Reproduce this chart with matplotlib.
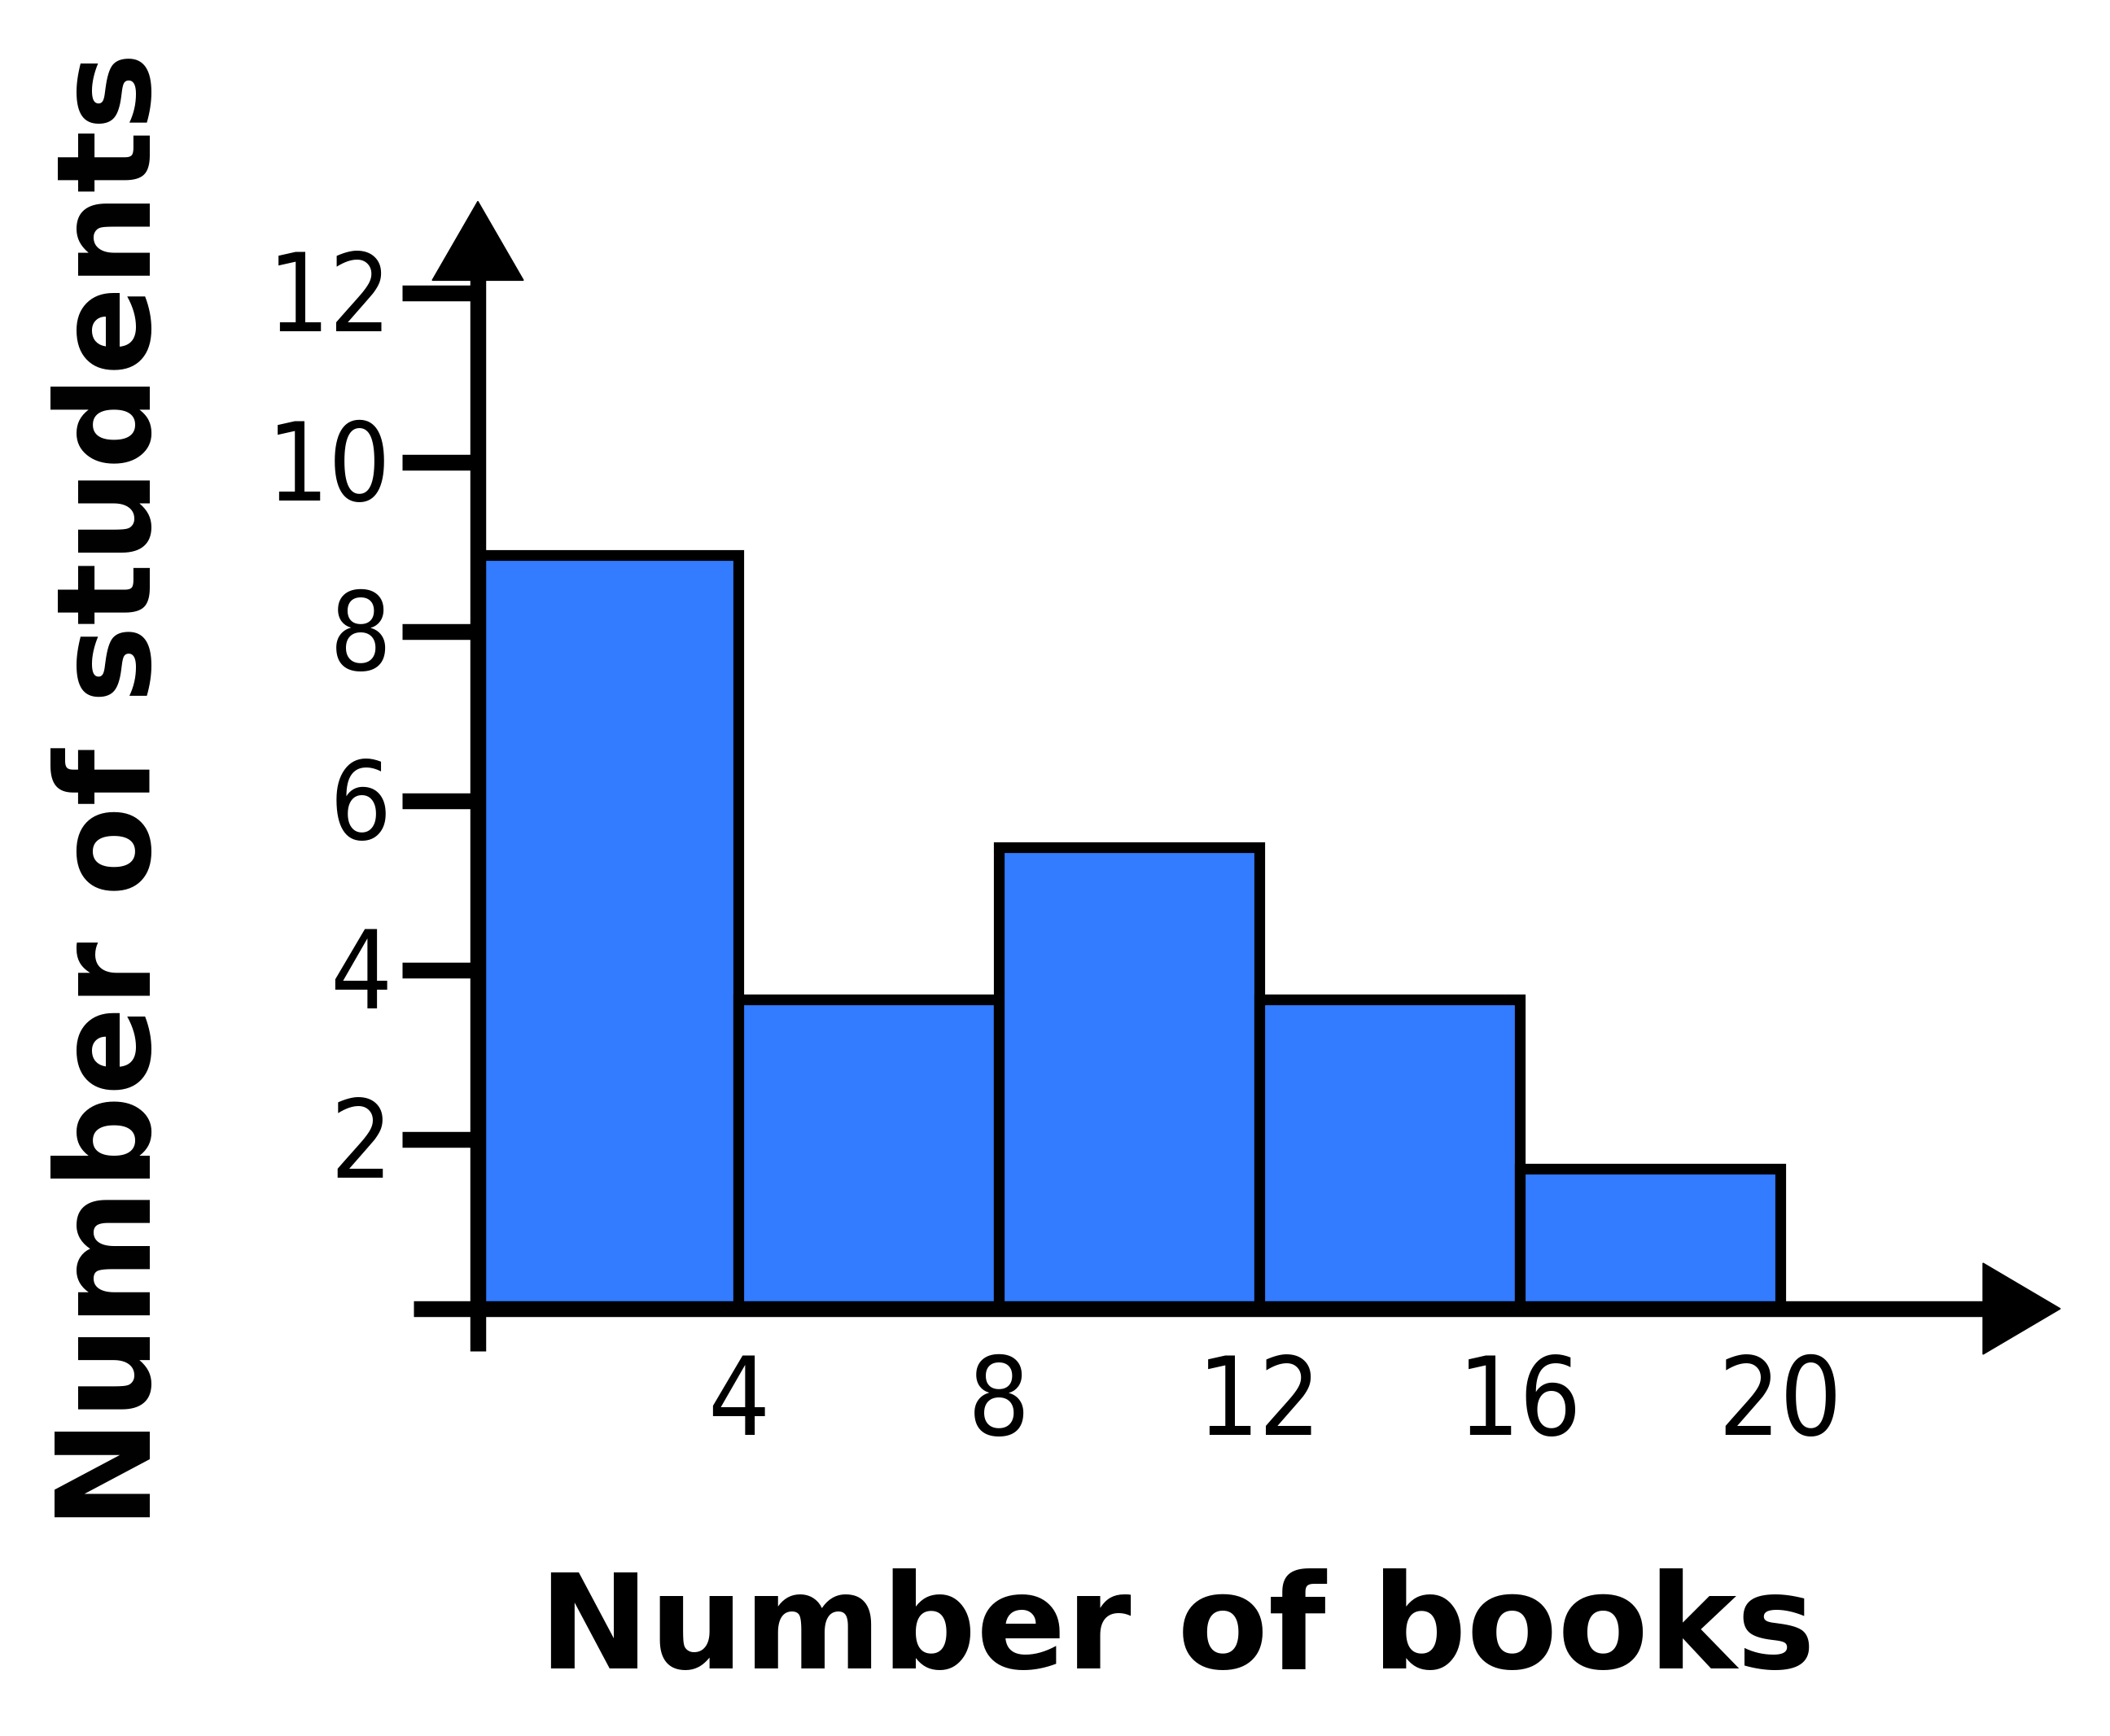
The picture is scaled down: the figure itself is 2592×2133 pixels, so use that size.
import matplotlib.pyplot as plt
from matplotlib import font_manager

# histogram data
bin_edges = [0, 4, 8, 12, 16, 20]
counts = [8.9, 3.65, 5.45, 3.65, 1.65]
x_ticks = [4, 8, 12, 16, 20]
y_ticks = [2, 4, 6, 8, 10, 12]

bar_color = '#337BFF'

# layout in pixels of the 2592x2133 output
W, H, DPI = 2592, 2133, 100
X0_PX, Y0_PX = 587, 1608      # where the origin lands
X_PX, Y_PX = 80.0, 104.0      # pixels per data unit

# a narrow upright face for the tick digits, if one is around
tick_fp = font_manager.FontProperties(family='Liberation Sans', size=96)
for f in font_manager.fontManager.ttflist:
    if (f.name == 'DejaVu Sans' and f.stretch == 'condensed'
            and f.style == 'normal' and f.weight in (400, 'normal', 'regular')):
        tick_fp = font_manager.FontProperties(fname=f.fname, size=96)
        break


def main():
    fig = plt.figure(figsize=(W / DPI, H / DPI), dpi=DPI)
    ax = fig.add_axes([0, 0, 1, 1])
    ax.set_xlim(-X0_PX / X_PX, (W - X0_PX) / X_PX)
    ax.set_ylim(-(H - Y0_PX) / Y_PX, Y0_PX / Y_PX)
    ax.axis('off')

    lefts = bin_edges[:-1]
    widths = [b - a for a, b in zip(bin_edges[:-1], bin_edges[1:])]
    ax.bar(lefts, counts, width=widths, align='edge', color=bar_color,
           edgecolor='black', linewidth=9.5, zorder=2)

    # y axis with arrow
    y_top = 12.15
    ax.plot([0, 0], [-0.5, y_top], color='black', lw=14, solid_capstyle='butt', zorder=3)
    hw = 56 / X_PX
    ax.fill([-hw, hw, 0], [y_top, y_top, y_top + 97 / Y_PX], color='black', zorder=3)

    # x axis with arrow
    x_end = (2436 - X0_PX) / X_PX
    ax.plot([-(79 / X_PX), x_end], [0, 0], color='black', lw=14, solid_capstyle='butt', zorder=3)
    hh = 56 / Y_PX
    ax.fill([x_end, x_end, x_end + 95 / X_PX], [-hh, hh, 0], color='black', zorder=3)

    # y ticks and labels
    for t in y_ticks:
        ax.plot([-93 / X_PX, 0], [t, t], color='black', lw=14, solid_capstyle='butt', zorder=3)
        ax.text(-106 / X_PX, t - 0.1, str(t), ha='right', va='center',
                fontproperties=tick_fp, color='black')

    for t in x_ticks:
        ax.text(t, -118 / Y_PX, str(t), ha='center', va='center',
                fontproperties=tick_fp, color='black')

    ax.text((1446 - X0_PX) / X_PX, -(2006 - Y0_PX) / Y_PX, 'Number of books',
            ha='center', va='center', fontsize=117, fontweight='bold', family='DejaVu Sans')
    ax.text((140 - X0_PX) / X_PX, (Y0_PX - 971) / Y_PX, 'Number of students',
            ha='center', va='center', rotation=90, fontsize=116, fontweight='bold',
            family='DejaVu Sans')

    fig.savefig('out.png', dpi=DPI, facecolor='white')


if __name__ == '__main__':
    main()
